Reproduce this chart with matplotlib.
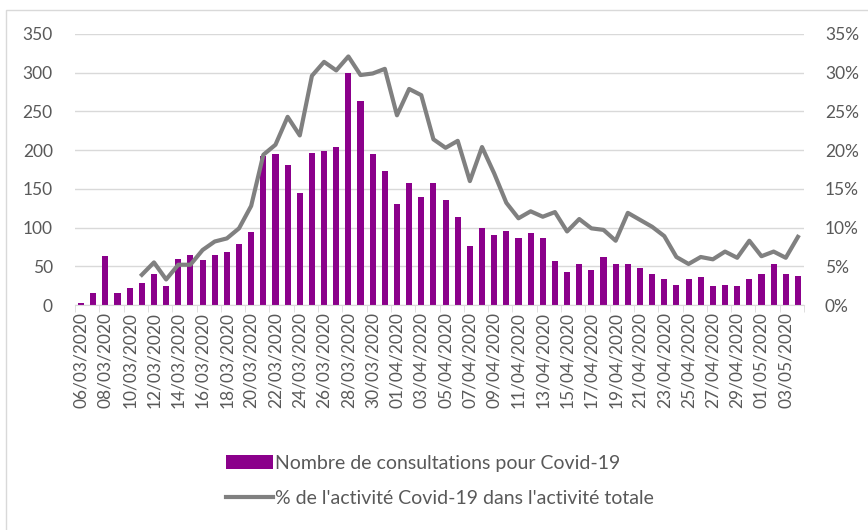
import matplotlib.pyplot as plt
from matplotlib.patches import Rectangle
from matplotlib.ticker import FuncFormatter
import pandas as pd

plt.rcParams['font.family'] = ['Lato', 'DejaVu Sans']

dates = pd.date_range('2020-03-06', '2020-05-04', freq='D')
labels = [d.strftime('%d/%m/%Y') for d in dates]

consultations = [3, 15, 63, 15, 22, 29, 40, 24, 60, 65,
                 58, 65, 68, 79, 94, 192, 195, 181, 145, 196,
                 199, 204, 299, 264, 195, 173, 131, 157, 140, 157,
                 135, 114, 76, 100, 91, 96, 86, 93, 86, 57,
                 42, 53, 45, 62, 53, 53, 48, 40, 33, 26,
                 33, 36, 24, 26, 24, 33, 40, 53, 40, 38]

# pas de valeur avant le 11/03
pct_activite = [None, None, None, None, None, 3.9, 5.5, 3.3, 5.2, 5.2,
                7.1, 8.2, 8.6, 9.9, 12.8, 19.4, 20.7, 24.3, 21.9, 29.6,
                31.4, 30.3, 32.1, 29.7, 29.9, 30.5, 24.5, 27.9, 27.1, 21.4,
                20.3, 21.2, 16.0, 20.4, 17.0, 13.2, 11.2, 12.1, 11.4, 12.0,
                9.5, 11.1, 9.9, 9.7, 8.3, 11.9, 11.0, 10.1, 8.9, 6.2,
                5.3, 6.2, 5.9, 6.9, 6.1, 8.3, 6.3, 6.9, 6.1, 8.8]

violet = '#8B008B'
gris = '#808080'
texte = '#595959'

fig = plt.figure(figsize=(8.68, 5.30), dpi=100)
fig.patches.append(Rectangle((6 / 868, -0.1), 1.2, 1 - 10 / 530 + 0.1,
                             transform=fig.transFigure, fill=False,
                             edgecolor='#d9d9d9', linewidth=1))

ax = fig.add_axes([75 / 868, 1 - 305 / 530, 729 / 868, 271 / 530])
x = list(range(len(dates)))

ax.bar(x, consultations, width=0.5, color=violet, zorder=2,
       label='Nombre de consultations pour Covid-19')
ax.set_ylim(0, 350)
ax.set_yticks(range(0, 351, 50))
ax.set_xlim(-0.5, len(dates) - 0.5)
ax.grid(axis='y', color='#d9d9d9', linewidth=1, zorder=0)
ax.set_axisbelow(True)

ax.set_xticks(x[::2])
ax.set_xticklabels(labels[::2], rotation=90)
ax.set_xticks([i - 0.5 for i in range(0, len(dates) + 1, 2)], minor=True)
ax.tick_params(axis='x', which='major', length=0, pad=5, labelsize=12.5, colors=texte)
ax.tick_params(axis='x', which='minor', length=5, color='#d9d9d9')
ax.tick_params(axis='y', length=0, pad=16, labelsize=12.5, colors=texte)

for s in ['top', 'right', 'left']:
    ax.spines[s].set_visible(False)
ax.spines['bottom'].set_color('#d9d9d9')

ax2 = ax.twinx()
pct_x = [i for i, v in zip(x, pct_activite) if v is not None]
pct_y = [v for v in pct_activite if v is not None]
ax2.plot(pct_x, pct_y, color=gris, linewidth=3, zorder=3,
         label="% de l'activité Covid-19 dans l'activité totale")
ax2.set_ylim(0, 35)
ax2.set_yticks(range(0, 36, 5))
ax2.yaxis.set_major_formatter(FuncFormatter(lambda v, p: f'{v:.0f}%'))
ax2.tick_params(axis='y', length=0, pad=15, labelsize=12.5, colors=texte)
for s in ax2.spines.values():
    s.set_visible(False)

h1, l1 = ax.get_legend_handles_labels()
h2, l2 = ax2.get_legend_handles_labels()
fig.legend(h1 + h2, l1 + l2, loc='center', bbox_to_anchor=(440 / 868, 1 - 481 / 530),
           frameon=False, fontsize=14, labelcolor=texte, handlelength=2.4,
           handleheight=0.75, handletextpad=0.1, labelspacing=0.95)

fig.savefig('out.png', dpi=100)
